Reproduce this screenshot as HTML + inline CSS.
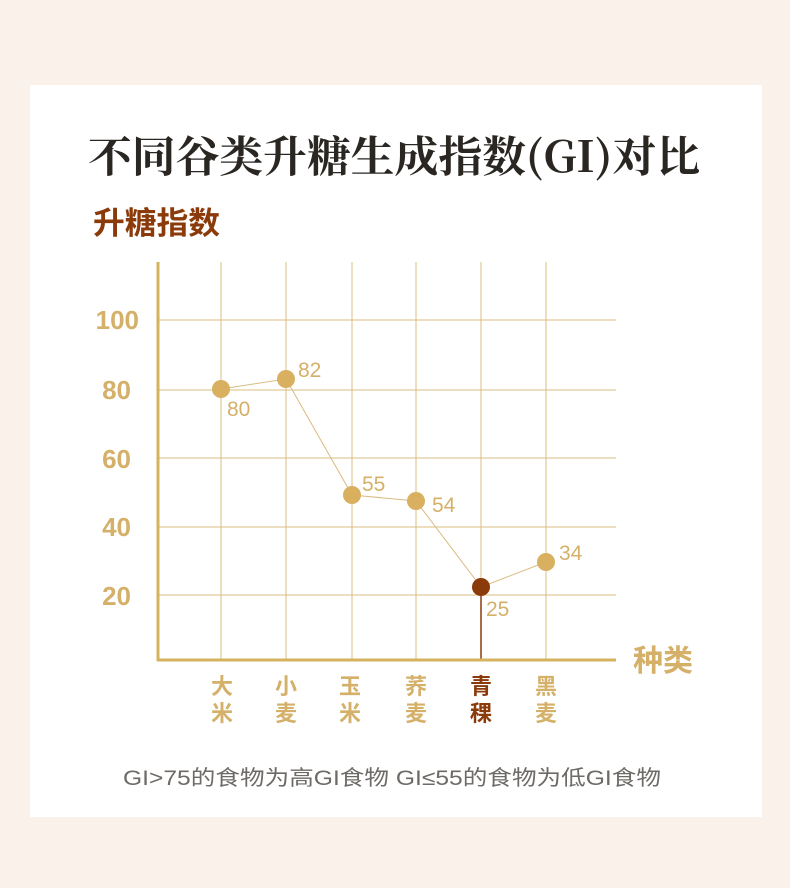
<!DOCTYPE html>
<html><head><meta charset="utf-8"><style>
body{margin:0;width:790px;height:888px;background:#faf1eb;overflow:hidden}
svg{display:block}
</style></head><body>
<svg width="790" height="888" xmlns="http://www.w3.org/2000/svg">
<rect x="0" y="0" width="790" height="888" fill="#faf1eb"/>
<rect x="30" y="85" width="732" height="732" fill="#fff"/>
<text x="88" y="172" textLength="612" lengthAdjust="spacingAndGlyphs" font-family="'Noto Serif CJK SC','Liberation Serif',serif" font-weight="bold" font-size="43" fill="#2a2622">不同谷类升糖生成指数(GI)对比</text>
<text x="93" y="234" textLength="127" lengthAdjust="spacingAndGlyphs" font-family="'Liberation Sans','Noto Sans CJK SC',sans-serif" font-weight="bold" font-size="31" fill="#8b3a0a">升糖指数</text>
<g stroke="#dbbd82" stroke-width="1">
<line x1="158" y1="320" x2="616" y2="320"/><line x1="158" y1="390" x2="616" y2="390"/>
<line x1="158" y1="458" x2="616" y2="458"/><line x1="158" y1="527" x2="616" y2="527"/>
<line x1="158" y1="595" x2="616" y2="595"/>
<line x1="221" y1="262" x2="221" y2="660"/><line x1="286" y1="262" x2="286" y2="660"/>
<line x1="352" y1="262" x2="352" y2="660"/><line x1="416" y1="262" x2="416" y2="660"/>
<line x1="481" y1="262" x2="481" y2="660"/><line x1="546" y1="262" x2="546" y2="660"/>
</g>
<line x1="481" y1="587" x2="481" y2="660" stroke="#8b3a0a" stroke-width="1.5"/>
<line x1="158" y1="262" x2="158" y2="661" stroke="#d4b25e" stroke-width="3"/>
<line x1="157" y1="660" x2="616" y2="660" stroke="#d4b25e" stroke-width="3"/>
<polyline points="221,389 286,379 352,495 416,501 481,587 546,562" fill="none" stroke="#d9bb80" stroke-width="1"/>
<g fill="#d8b060">
<circle cx="221" cy="389" r="9"/><circle cx="286" cy="379" r="9"/><circle cx="352" cy="495" r="9"/>
<circle cx="416" cy="501" r="9"/><circle cx="546" cy="562" r="9"/></g>
<circle cx="481" cy="587" r="9" fill="#8b3a0a"/>
<g font-family="'Liberation Sans',sans-serif" font-size="21" fill="#d4b068">
<text x="227" y="416">80</text><text x="298" y="377">82</text><text x="362" y="491">55</text>
<text x="432" y="512">54</text><text x="486" y="616">25</text><text x="559" y="560">34</text></g>
<g font-family="'Liberation Sans',sans-serif" font-weight="bold" font-size="26" fill="#d4b068" text-anchor="end">
<text x="139" y="329">100</text><text x="131" y="399">80</text><text x="131" y="468">60</text>
<text x="131" y="536">40</text><text x="131" y="605">20</text></g>
<text x="633" y="671" font-family="'Liberation Sans','Noto Sans CJK SC',sans-serif" font-weight="bold" font-size="30" fill="#d4b068">种类</text>
<g font-family="'Noto Sans CJK SC',sans-serif" font-weight="bold" font-size="22" fill="#d4b068" text-anchor="middle">
<text x="222" y="694">大</text><text x="222" y="721">米</text>
<text x="286" y="694">小</text><text x="286" y="721">麦</text>
<text x="350" y="694">玉</text><text x="350" y="721">米</text>
<text x="416" y="694">荞</text><text x="416" y="721">麦</text>
<text x="546" y="694">黑</text><text x="546" y="721">麦</text>
<text x="481" y="694" fill="#8b3a0a">青</text><text x="481" y="721" fill="#8b3a0a">稞</text></g>
<text x="123" y="785" textLength="538" lengthAdjust="spacingAndGlyphs" font-family="'Liberation Sans','Noto Sans CJK SC',sans-serif" font-size="21" fill="#6e6a66">GI&gt;75的食物为高GI食物 GI≤55的食物为低GI食物</text>
</svg>
</body></html>
